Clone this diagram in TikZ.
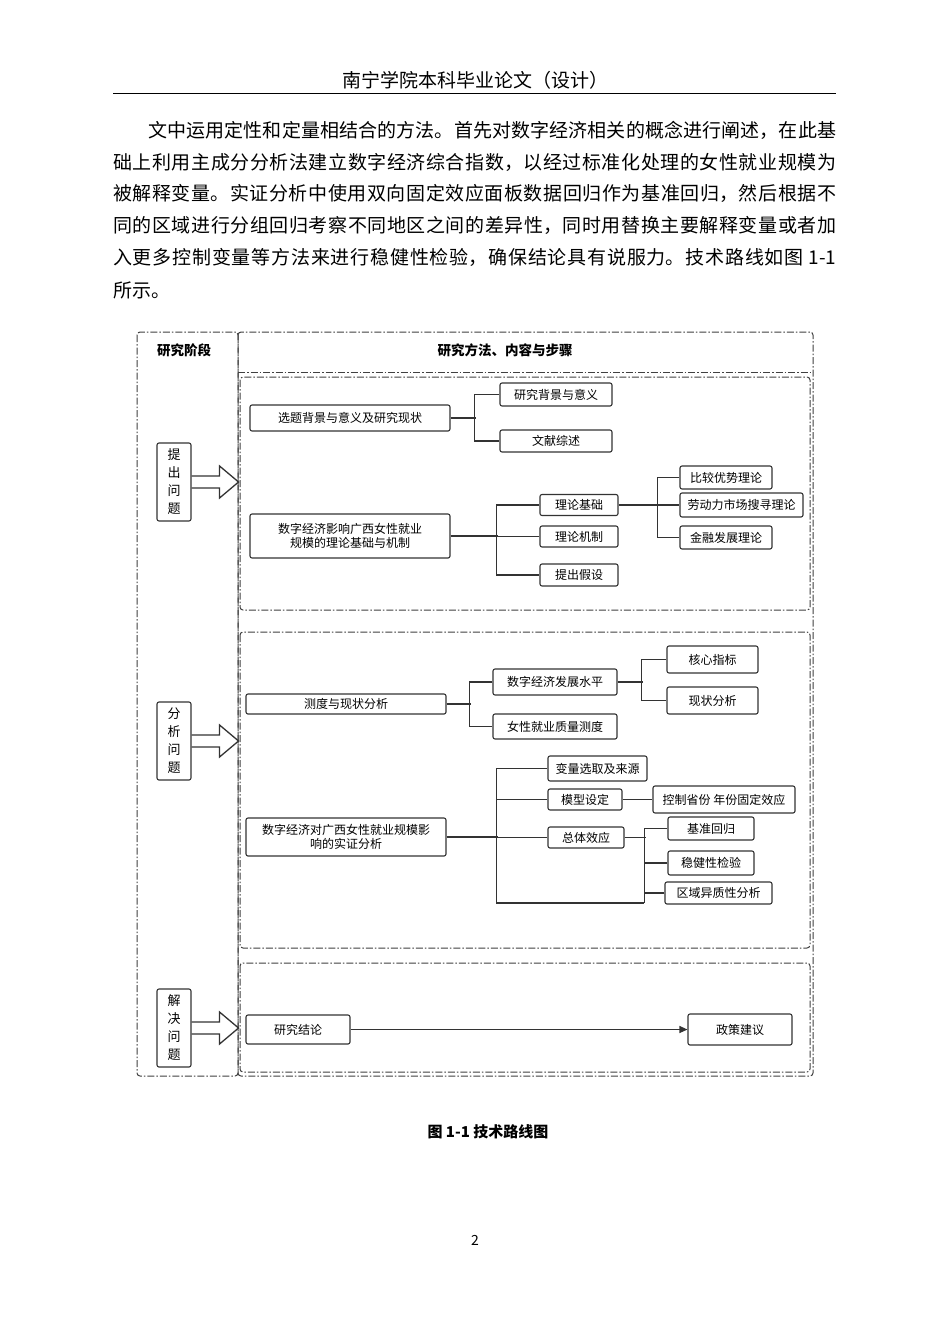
\documentclass[tikz,border=0pt]{standalone}
\usepackage{fontspec}
\setmainfont{Noto Sans CJK SC}
\usetikzlibrary{arrows.meta}
\XeTeXlinebreaklocale "zh"
\XeTeXlinebreakskip=0pt
\newcommand{\jline}[2]{\parbox{#1}{\XeTeXlinebreakskip=0pt plus 3pt\parfillskip=0pt\relax #2}}
\begin{document}
\begin{tikzpicture}[x=1pt,y=-1pt,
  box/.style={draw=black!80,line width=1.1pt,rounded corners=2pt,inner sep=1pt,font=\fontsize{12}{14}\selectfont,align=center},
  stage/.style={box,minimum width=34pt,minimum height=78pt,font=\fontsize{13}{18}\selectfont},
  dd/.style={draw=black!75,line width=1pt,dash pattern=on 7pt off 2pt on 1.5pt off 2pt,rounded corners=3pt},
  ln/.style={draw=black!80,line width=1.1pt},
  body/.style={anchor=west,inner sep=0pt,font=\fontsize{19}{24}\selectfont}]
\useasboundingbox[fill=white] (0,0) rectangle (950,1344);
% header
\node[font=\fontsize{19}{22}\selectfont] (hd) at (475,80) {南宁学院本科毕业论文（设计）};
\draw[line width=1pt] (113,93) -- (836,93);
% body
\node[body] (l1) at (148,130) {\jline{688pt}{文中运用定性和定量相结合的方法。首先对数字经济相关的概念进行阐述，在此基}};
\node[body] (l2) at (113,162) {\jline{723pt}{础上利用主成分分析法建立数字经济综合指数，以经过标准化处理的女性就业规模为}};
\node[body] (l3) at (113,193) {\jline{723pt}{被解释变量。实证分析中使用双向固定效应面板数据回归作为基准回归，然后根据不}};
\node[body] (l4) at (113,225) {\jline{723pt}{同的区域进行分组回归考察不同地区之间的差异性，同时用替换主要解释变量或者加}};
\node[body] (l5) at (113,257) {\jline{723pt}{入更多控制变量等方法来进行稳健性检验，确保结论具有说服力。技术路线如图 1-1}};
\node[body] (l6) at (113,290) {所示。};
% frames
\draw[dd] (137,332) rectangle (238,1076);
\draw[dd] (238,332) rectangle (813,1076);
\draw[dd] (238,372) -- (813,372);
\draw[dd] (240,377) rectangle (810,610);
\draw[dd] (240,632) rectangle (810,948);
\draw[dd] (240,963) rectangle (810,1072);
\node[font=\fontsize{13.5}{16}\selectfont\bfseries] (h1) at (184,350) {研究阶段};
\node[font=\fontsize{13.5}{16}\selectfont\bfseries] (h2) at (505,350) {研究方法、内容与步骤};
% stages
\node[stage] (p1) at (174,482) {提\\出\\问\\题};
\node[stage] (p2) at (174,741) {分\\析\\问\\题};
\node[stage] (p3) at (174,1028) {解\\决\\问\\题};
\foreach \p in {p1,p2,p3}
  \draw[ln,line width=1.3pt,shift={(\p.east)}] (0,-6)--(28,-6)--(28,-16)--(47,0)--(28,16)--(28,6)--(0,6);
% section 1
\node[box,minimum width=200pt,minimum height=26pt] (s1a) at (350,418) {选题背景与意义及研究现状};
\node[box,minimum width=112pt,minimum height=23pt] (s1b) at (556,394.5) {研究背景与意义};
\node[box,minimum width=112pt,minimum height=22pt] (s1c) at (556,441) {文献综述};
\node[box,minimum width=200pt,minimum height=44pt] (s1d) at (350,536) {数字经济影响广西女性就业\\规模的理论基础与机制};
\node[box,minimum width=78pt,minimum height=21pt] (t1) at (579,505) {理论基础};
\node[box,minimum width=78pt,minimum height=21pt] (t2) at (579,536.5) {理论机制};
\node[box,minimum width=78pt,minimum height=22pt] (t3) at (579,575) {提出假设};
\node[box,minimum width=92pt,minimum height=23pt] (u1) at (726,477.5) {比较优势理论};
\node[box,minimum width=123pt,minimum height=24pt] (u2) at (741.5,505) {劳动力市场搜寻理论};
\node[box,minimum width=92pt,minimum height=23pt] (u3) at (726,537.5) {金融发展理论};
\draw[ln] (s1a.east) -- ++(25,0);
\draw[ln] (s1b.west) -- ++(-25,0) |- (s1c.west);
\draw[ln] (s1d.east) -- ++(47,0);
\draw[ln] (t1.west) -- ++(-43,0) |- (t3.west);
\draw[ln] (t2.west) -- ++(-43,0);
\draw[ln] (t1.east) -- (u2.west);
\draw[ln] (u1.west) -- ++(-22,0) |- (u3.west);
% section 2
\node[box,minimum width=200pt,minimum height=20pt] (m1) at (346,704) {测度与现状分析};
\node[box,minimum width=124pt,minimum height=26pt] (m2) at (555,682) {数字经济发展水平};
\node[box,minimum width=124pt,minimum height=25pt] (m3) at (555,726.5) {女性就业质量测度};
\node[box,minimum width=91pt,minimum height=27pt] (m4) at (712.5,659.5) {核心指标};
\node[box,minimum width=91pt,minimum height=27pt] (m5) at (712.5,700.5) {现状分析};
\draw[ln] (m1.east) -- ++(24,0);
\draw[ln] (m2.west) -- ++(-23,0) |- (m3.west);
\draw[ln] (m2.east) -- ++(25,0);
\draw[ln] (m4.west) -- ++(-25,0) |- (m5.west);
\node[box,minimum width=200pt,minimum height=38pt] (e1) at (346,837) {数字经济对广西女性就业规模影\\响的实证分析};
\node[box,minimum width=99pt,minimum height=25pt] (e2) at (597.5,768.5) {变量选取及来源};
\node[box,minimum width=74pt,minimum height=21pt] (e3) at (585,799.5) {模型设定};
\node[box,minimum width=142pt,minimum height=27pt] (e4) at (724,799.5) {控制省份 年份固定效应};
\node[box,minimum width=76pt,minimum height=21pt] (e5) at (586,837.5) {总体效应};
\node[box,minimum width=86pt,minimum height=23pt] (e6) at (711,828.5) {基准回归};
\node[box,minimum width=86pt,minimum height=24pt] (e7) at (711,863) {稳健性检验};
\node[box,minimum width=107pt,minimum height=22pt] (e8) at (718.5,893) {区域异质性分析};
\draw[ln] (e2.west) -- ++(-51,0) -- ++(0,134.5) coordinate (b1) -- ++(148,0) coordinate (b2);
\draw[ln] (e6.west) -- ++(-23,0) -- (b2);
\draw[ln] (e7.west) -- ++(-23,0);
\draw[ln] (e8.west) -- ++(-20,0);
\draw[ln] (e5.east) -- ++(21,0);
\draw[ln] (e3.west) -- ++(-51,0);
\draw[ln] (e5.west) -- ++(-51,0);
\draw[ln] (e1.east) -- ++(51,0);
\draw[ln] (e3.east) -- (e4.west);
% section 3
\node[box,minimum width=104pt,minimum height=29pt] (r1) at (298,1029.5) {研究结论};
\node[box,minimum width=104pt,minimum height=31pt] (r2) at (740,1029.5) {政策建议};
\draw[ln,-{Triangle[length=8pt,width=7pt]}] (r1.east) -- (r2.west);
% caption
\node[font=\fontsize{15}{18}\selectfont\bfseries] (cap) at (488,1132) {图 1-1 技术路线图};
\node[font=\fontsize{14}{16}\selectfont] (pg) at (475,1240) {2};
\end{tikzpicture}
\end{document}
